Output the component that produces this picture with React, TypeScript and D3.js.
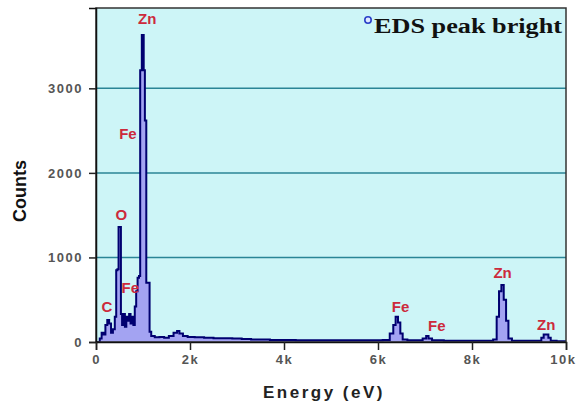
import React from 'react';
import * as d3 from 'd3';

// spectrum (eV, counts)
const energies = [
  0, 60, 100, 140, 180, 220, 260, 300, 340, 380, 420, 440, 470, 490, 520, 540, 570, 600,
  630, 660, 690, 720, 750, 780, 810, 840, 870, 900, 930, 950, 1000, 1030, 1050, 1090,
  1130, 1150, 1200, 1300, 1400, 1500, 1600, 1700, 1750, 1800, 1900, 2000, 2200, 2400,
  2600, 2800, 3000, 3200, 3400, 3600, 3800, 4000, 4500, 5000, 5500, 6000, 6200, 6300,
  6350, 6400, 6450, 6500, 6550, 6700, 6900, 7000, 7050, 7100, 7200, 7600, 8000, 8400,
  8500, 8550, 8600, 8650, 8700, 8750, 8800, 8900, 9200, 9450, 9500, 9550, 9600, 9650,
  9700, 9900, 10000,
];
const counts = [
  0, 0, 40, 110, 90, 200, 260, 220, 110, 150, 300, 850, 860, 1360, 1360, 330, 200, 330,
  180, 300, 250, 330, 220, 300, 200, 420, 600, 760, 780, 3215, 3630, 3215, 2620, 700,
  700, 120, 70, 55, 60, 50, 70, 110, 130, 100, 70, 60, 55, 50,
  45, 45, 40, 35, 30, 30, 25, 25, 20, 20, 20, 20, 25, 100,
  200, 300, 230, 100, 30, 20, 20, 40, 70, 40, 20, 15, 15, 15,
  30, 300, 600, 675, 500, 250, 40, 15, 15, 15, 50, 90, 90, 50,
  15, 10, 10,
];

const peakNames = ['Zn', 'Fe', 'O', 'Fe', 'C', 'Fe', 'Fe', 'Zn', 'Zn'];
const peakEnergies = [1090, 680, 540, 730, 230, 6480, 7250, 8650, 9580];
const peakCounts = [3830, 2460, 1510, 650, 420, 420, 190, 820, 205];

const yTicks = [0, 1000, 2000, 3000];
const xTicks = [0, 2000, 4000, 6000, 8000, 10000];
const xTickLabels = ['0', '2k', '4k', '6k', '8k', '10k'];
const legendLabel = 'EDS peak bright';

export default function App() {
  const ref = React.useRef<SVGSVGElement>(null);

  React.useEffect(() => {
    if (!ref.current) return;
    const svg = d3.select(ref.current);
    svg.selectAll('*').remove();

    const x = d3.scaleLinear().domain([0, 10000]).range([96, 566]);
    const y = d3.scaleLinear().domain([0, 3950]).range([342, 8]);

    // plot background
    svg.append('rect')
      .attr('x', x(0)).attr('y', y(3950))
      .attr('width', x(10000) - x(0)).attr('height', y(0) - y(3950))
      .attr('fill', '#cdf5f7');

    // grid
    svg.append('g')
      .selectAll('line')
      .data(yTicks.filter(d => d > 0))
      .enter()
      .append('line')
      .attr('x1', x(0)).attr('x2', x(10000))
      .attr('y1', d => y(d)).attr('y2', d => y(d))
      .attr('stroke', '#2a8596')
      .attr('stroke-width', 1.5);

    // spectrum
    const pts = energies.map((e, i) => [e, counts[i]] as [number, number]);
    const area = d3.area<[number, number]>()
      .x(d => x(d[0]))
      .y0(y(0))
      .y1(d => y(d[1]))
      .curve(d3.curveStep);
    const line = d3.line<[number, number]>()
      .x(d => x(d[0]))
      .y(d => y(d[1]))
      .curve(d3.curveStep);

    svg.append('path')
      .attr('d', area(pts))
      .attr('fill', '#a3a3f2');
    svg.append('path')
      .attr('d', line(pts))
      .attr('fill', 'none')
      .attr('stroke', '#000070')
      .attr('stroke-width', 2);

    // frame
    svg.append('rect')
      .attr('x', x(0)).attr('y', y(3950))
      .attr('width', x(10000) - x(0)).attr('height', y(0) - y(3950))
      .attr('fill', 'none')
      .attr('stroke', '#333')
      .attr('stroke-width', 1.5);

    /* axes */
    const axisY = d3.axisLeft(y).tickValues(yTicks).tickSize(7).tickPadding(6)
      .tickFormat(d => String(d));
    const gy = svg.append('g').attr('transform', `translate(${x(0)},0)`).call(axisY);
    const axisX = d3.axisBottom(x).tickValues(xTicks).tickSize(8).tickPadding(5)
      .tickFormat((d, i) => xTickLabels[i]);
    const gx = svg.append('g').attr('transform', `translate(0,${y(0)})`).call(axisX);

    [gx, gy].forEach(g => {
      g.select('.domain').attr('stroke', '#111').attr('stroke-width', 1.5);
      g.selectAll('.tick line').attr('stroke', '#222').attr('stroke-width', 1.5);
      g.selectAll('.tick text')
        .attr('fill', '#555')
        .style('font-family', 'Arial, "Liberation Sans", sans-serif')
        .style('font-weight', 'bold')
        .style('font-size', '13px')
        .style('letter-spacing', '1.5px');
    });
    // keep the last x label inside the picture
    gx.selectAll('.tick text')
      .filter((d, i) => i === xTicks.length - 1)
      .attr('text-anchor', 'end')
      .attr('dx', '10px');

    // axis titles
    svg.append('text')
      .attr('transform', 'translate(26,191) rotate(-90)')
      .attr('text-anchor', 'middle')
      .style('font-family', 'Arial, "Liberation Sans", sans-serif')
      .style('font-weight', 'bold')
      .style('font-size', '18px')
      .attr('fill', '#111')
      .text('Counts');
    svg.append('text')
      .attr('x', 324).attr('y', 398)
      .attr('text-anchor', 'middle')
      .style('font-family', 'Arial, "Liberation Sans", sans-serif')
      .style('font-weight', 'bold')
      .style('font-size', '17px')
      .style('letter-spacing', '2.5px')
      .attr('fill', '#222')
      .text('Energy (eV)');

    // peak labels
    svg.append('g')
      .selectAll('text')
      .data(peakNames)
      .enter()
      .append('text')
      .attr('x', (d, i) => x(peakEnergies[i]))
      .attr('y', (d, i) => y(peakCounts[i]))
      .attr('text-anchor', 'middle')
      .attr('dominant-baseline', 'central')
      .style('font-family', 'Arial, "Liberation Sans", sans-serif')
      .style('font-size', '15px')
      .style('font-weight', '600')
      .attr('fill', '#cc2a3c')
      .text(d => d);

    // legend
    svg.append('circle')
      .attr('cx', 368).attr('cy', 20).attr('r', 3.2)
      .attr('fill', '#dfe8ff')
      .attr('stroke', '#2a3fc8')
      .attr('stroke-width', 1.6);
    svg.append('text')
      .attr('x', 374).attr('y', 33)
      .attr('textLength', 188)
      .attr('lengthAdjust', 'spacingAndGlyphs')
      .style('font-family', '"Liberation Serif", "DejaVu Serif", serif')
      .style('font-weight', 'bold')
      .style('font-size', '20px')
      .attr('fill', '#111')
      .text(legendLabel);
  }, []);

  return (
    <svg
      ref={ref}
      width={578}
      height={404}
      style={{ position: 'absolute', left: 0, top: 0, background: '#fff' }}
    />
  );
}
